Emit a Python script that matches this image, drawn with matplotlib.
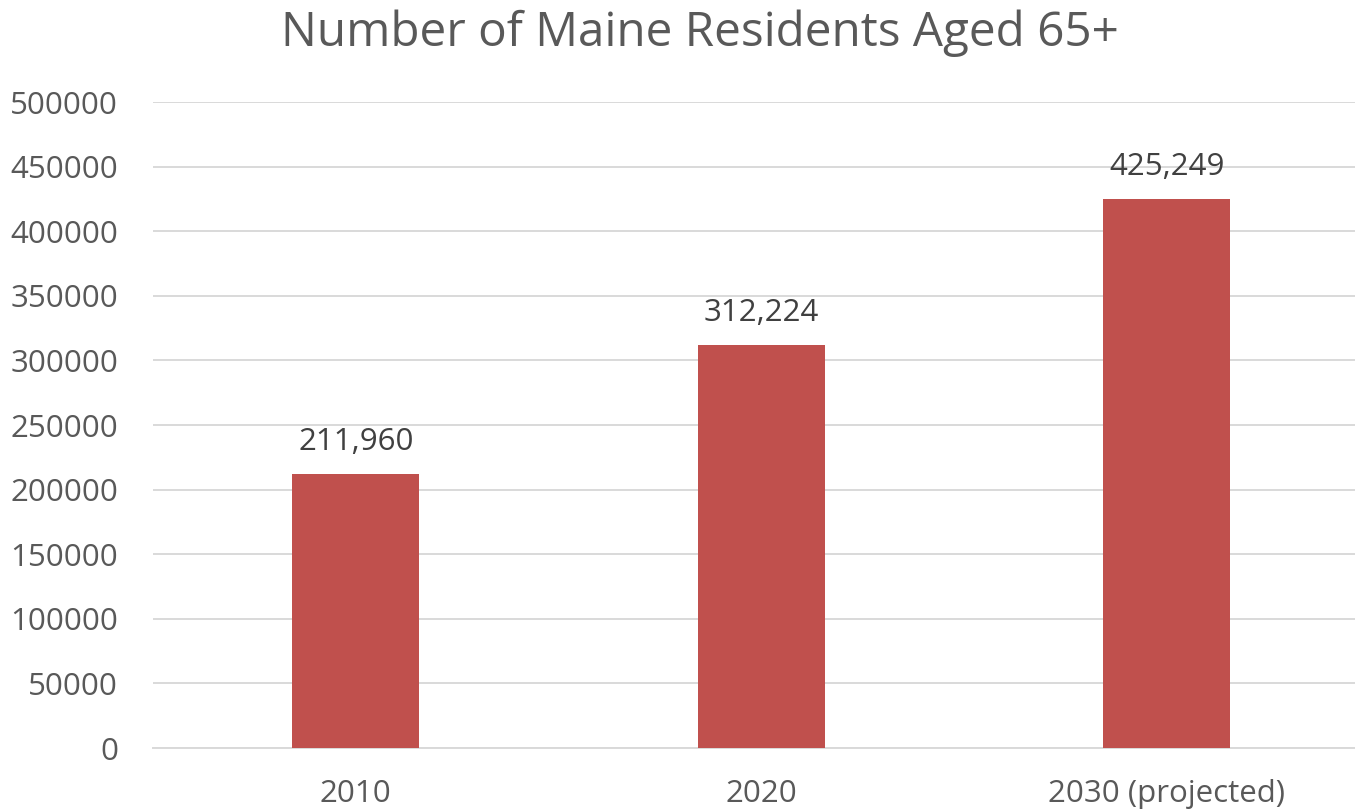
import matplotlib.pyplot as plt

categories = ["2010", "2020", "2030 (projected)"]
residents = [211960, 312224, 425249]
y_ticks = [0, 50000, 100000, 150000, 200000, 250000, 300000, 350000, 400000, 450000, 500000]

plt.rcParams["font.family"] = ["Open Sans", "DejaVu Sans"]

fig = plt.figure(figsize=(13.55, 8.1), dpi=100)
ax = fig.add_axes([153 / 1355, 62 / 810, 1216.5 / 1355, 646 / 810])

x = range(len(categories))
bars = ax.bar(x, residents, width=0.313, color="#C0504D", zorder=3)

for rect, val in zip(bars, residents):
    ax.annotate(f"{val:,}", (rect.get_x() + rect.get_width() / 2, val),
                xytext=(0, 12), textcoords="offset points",
                ha="center", va="bottom", fontsize=22.5, color="#404040")

ax.set_xlim(-0.5, 2.5)
ax.set_ylim(0, 500000)
ax.set_yticks(y_ticks)
ax.set_yticklabels([str(v) for v in y_ticks])
ax.set_xticks(list(x))
ax.set_xticklabels(categories)
ax.tick_params(axis="y", length=0, pad=25, labelsize=22.5, labelcolor="#595959")
ax.tick_params(axis="x", length=0, pad=22, labelsize=22.5, labelcolor="#595959")
ax.grid(axis="y", color="#D9D9D9", linewidth=1.4, zorder=0)
for side in ["top", "right", "left"]:
    ax.spines[side].set_visible(False)
ax.spines["bottom"].set_color("#D9D9D9")
ax.spines["bottom"].set_linewidth(1.4)

fig.text(700 / 1355, 1 - 33 / 810, "Number of Maine Residents Aged 65+",
         ha="center", va="center", fontsize=34.3, color="#595959")

fig.savefig("out.png", dpi=100)
